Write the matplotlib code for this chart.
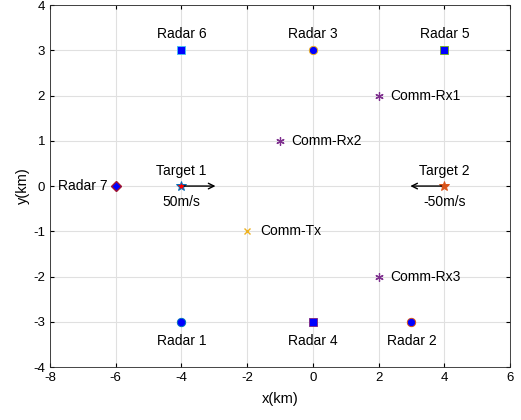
import numpy as np
import matplotlib.pyplot as plt

plt.rcParams['font.family'] = ['Liberation Sans', 'DejaVu Sans']
plt.rcParams['axes.unicode_minus'] = False

# radar positions (km)
radar_names = ['Radar 1', 'Radar 2', 'Radar 3', 'Radar 4', 'Radar 5', 'Radar 6', 'Radar 7']
radar_x = [-4, 3, 0, 0, 4, -4, -6]
radar_y = [-3, -3, 3, -3, 3, 3, 0]
radar_marker = ['o', 'o', 'o', 's', 's', 's', 'D']

# targets
target_names = ['Target 1', 'Target 2']
target_x = [-4, 4]
target_y = [0, 0]
target_v = [50, -50]  # m/s

# communication nodes
tx_x, tx_y = [-2], [-1]
rx_names = ['Comm-Rx1', 'Comm-Rx2', 'Comm-Rx3']
rx_x = [2, -1, 2]
rx_y = [2, 1, -2]

mcolors = [(0, 0.447, 0.741), (0.85, 0.325, 0.098), (0.929, 0.694, 0.125),
           (0.494, 0.184, 0.556), (0.466, 0.674, 0.188), (0.301, 0.745, 0.933),
           (0.635, 0.078, 0.184)]

fig = plt.figure(figsize=(5.21, 4.2), dpi=100)
ax = fig.add_axes([0.096, 0.126, 0.883, 0.862])

for i in range(len(radar_names)):
    ax.plot(radar_x[i], radar_y[i], marker=radar_marker[i], color='blue',
            markerfacecolor='blue', markeredgecolor=mcolors[i],
            markeredgewidth=0.7 if radar_marker[i] != 'D' else 1.0,
            markersize=6 if radar_marker[i] != 'D' else 5.5, linestyle='none', zorder=3)

# labels for radars
for i in range(len(radar_names)):
    if radar_names[i] == 'Radar 7':
        ax.text(radar_x[i] - 0.25, radar_y[i], radar_names[i], ha='right', va='center', fontsize=10)
    elif radar_y[i] > 0:
        ax.text(radar_x[i], radar_y[i] + 0.2, radar_names[i], ha='center', va='bottom', fontsize=10)
    else:
        ax.text(radar_x[i], radar_y[i] - 0.27, radar_names[i], ha='center', va='top', fontsize=10)

# targets with velocity arrows
t_colors = [(0, 0.447, 0.741), (0.85, 0.325, 0.098)]
t_face = ['red', (0.85, 0.325, 0.098)]
for i in range(len(target_names)):
    ax.plot(target_x[i], target_y[i], marker='*', markersize=7, linestyle='none',
            markeredgecolor=t_colors[i], markerfacecolor=t_face[i],
            markeredgewidth=0.7, zorder=3)
    ax.annotate('', xy=(target_x[i] + np.sign(target_v[i]) * 1.12, target_y[i]),
                xytext=(target_x[i], target_y[i]),
                arrowprops=dict(arrowstyle='->', color='black', lw=1))
    ax.text(target_x[i], target_y[i] + 0.17, target_names[i], ha='center', va='bottom', fontsize=10)
    ax.text(target_x[i], target_y[i] - 0.2, f'{target_v[i]}m/s', ha='center', va='top', fontsize=10)

ax.plot(tx_x, tx_y, marker='x', color=mcolors[2], markersize=5, linestyle='none', zorder=3)
ax.text(tx_x[0] + 0.4, tx_y[0], 'Comm-Tx', ha='left', va='center', fontsize=10)

ax.plot(rx_x, rx_y, marker=(6, 2, 0), color=mcolors[3], markersize=6, linestyle='none',
        markeredgewidth=0.9, zorder=3)
for i in range(len(rx_names)):
    ax.text(rx_x[i] + 0.35, rx_y[i], rx_names[i], ha='left', va='center', fontsize=10)

ax.set_xlim(-8, 6)
ax.set_ylim(-4, 4)
ax.set_xticks(np.arange(-8, 7, 2))
ax.set_yticks(np.arange(-4, 5, 1))
ax.grid(True, color=(0.88, 0.88, 0.88), linewidth=0.8)
ax.set_axisbelow(True)
ax.tick_params(direction='in', top=True, right=True, labelsize=9.5, length=3)
for s in ax.spines.values():
    s.set_color((0.15, 0.15, 0.15))
    s.set_linewidth(0.6)
ax.set_xlabel('x(km)', fontsize=10.5, labelpad=6)
ax.set_ylabel('y(km)', fontsize=10.5, labelpad=2)

fig.savefig('out.png', dpi=100)
